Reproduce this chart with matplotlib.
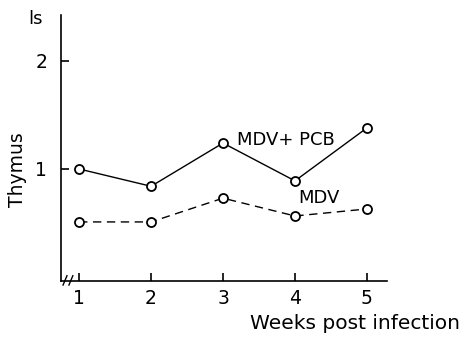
import matplotlib
matplotlib.use("Agg")
import matplotlib.pyplot as plt

# Data
weeks = [1, 2, 3, 4, 5]
mdv_pcb = [1.00, 0.84, 1.24, 0.89, 1.38]
mdv = [0.51, 0.51, 0.73, 0.565, 0.63]
ytick_vals = [1, 2]

plt.rcParams['font.family'] = ['DejaVu Sans']

fig = plt.figure(figsize=(4.63, 3.39), dpi=100)
ax = fig.add_axes([0.132, 0.171, 0.704, 0.785])

ax.plot(weeks, mdv_pcb, '-', color='black', lw=1.0, marker='o', ms=6.5,
        mfc='white', mec='black', mew=1.3)
ax.plot(weeks, mdv, color='black', lw=1.0, ls=(0, (6, 4)), marker='o', ms=6.5,
        mfc='white', mec='black', mew=1.3)

ax.set_xlim(0.75, 5.28)
ax.set_ylim(-0.037, 2.426)

ax.spines['top'].set_visible(False)
ax.spines['right'].set_visible(False)
for s in ['left', 'bottom']:
    ax.spines[s].set_linewidth(1.2)

ax.set_xticks(weeks)
ax.set_yticks(ytick_vals)
ax.tick_params(direction='in', length=6, width=1.2, labelsize=13.5, pad=6)
ax.tick_params(axis='y', pad=10)

ax.set_ylabel('Thymus', fontsize=13.5)
ax.yaxis.set_label_coords(-0.105, 0.417)
ax.text(1.224, -0.125, 'Weeks post infection', transform=ax.transAxes,
        fontsize=14.5, ha='right', va='top', clip_on=False)
ax.text(-0.055, 0.985, 'ls', transform=ax.transAxes, fontsize=13,
        ha='right', va='center')

ax.text(3.2, 1.27, 'MDV+ PCB', fontsize=13, ha='left', va='center')
ax.text(4.04, 0.73, 'MDV', fontsize=13, ha='left', va='center')

# axis break marks
for dx in (0.012, 0.03):
    ax.plot([dx - 0.006, dx + 0.006], [-0.015, 0.02], transform=ax.transAxes,
            color='black', lw=1.0, clip_on=False)

fig.savefig('out.png', dpi=100)
